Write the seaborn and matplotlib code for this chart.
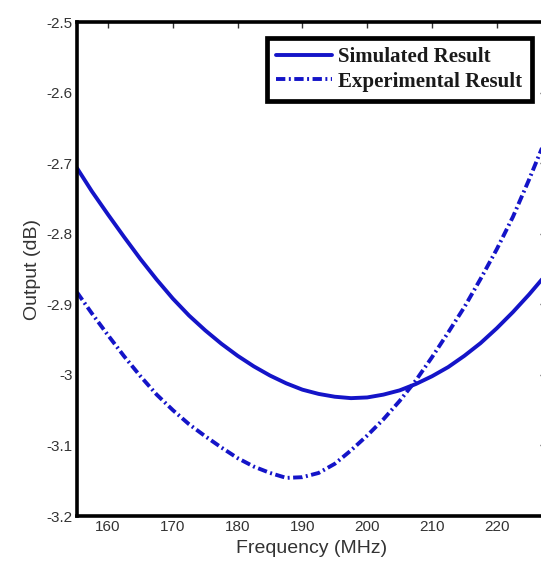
import matplotlib
matplotlib.use("Agg")
import matplotlib.pyplot as plt
import seaborn as sns
import pandas as pd

# Frequency sweep (MHz) and measured/simulated output (dB)
freq_mhz = [155.2, 157.5, 160, 162.5, 165, 167.5, 170, 172.5, 175, 177.5,
            180, 182.5, 185, 187.5, 190, 192.5, 195, 197.5, 200, 202.5,
            205, 207.5, 210, 212.5, 215, 217.5, 220, 222.5, 225, 227.5]
simulated_db = [-2.707, -2.740, -2.773, -2.805, -2.836, -2.865, -2.892, -2.916,
                -2.937, -2.956, -2.973, -2.988, -3.001, -3.012, -3.021, -3.027,
                -3.031, -3.033, -3.032, -3.028, -3.022, -3.013, -3.002, -2.989,
                -2.973, -2.955, -2.934, -2.911, -2.886, -2.859]
experimental_db = [-2.883, -2.913, -2.944, -2.974, -3.002, -3.028, -3.050, -3.070,
                   -3.087, -3.103, -3.118, -3.130, -3.139, -3.146, -3.145, -3.139,
                   -3.126, -3.107, -3.086, -3.063, -3.037, -3.008, -2.975, -2.940,
                   -2.904, -2.864, -2.822, -2.776, -2.723, -2.667]

series_names = ["Simulated Result", "Experimental Result"]
x_ticks = [160, 170, 180, 190, 200, 210, 220]
y_ticks = [-2.5, -2.6, -2.7, -2.8, -2.9, -3.0, -3.1, -3.2]
y_tick_labels = ["-2.5", "-2.6", "-2.7", "-2.8", "-2.9", "-3", "-3.1", "-3.2"]

sim_df = pd.DataFrame({"freq": freq_mhz, "out": simulated_db})
exp_df = pd.DataFrame({"freq": freq_mhz, "out": experimental_db})

sns.set_style("white")
plt.rcParams["font.family"] = ["Liberation Sans", "DejaVu Sans"]

W, H = 541, 570
fig = plt.figure(figsize=(W / 100, H / 100), dpi=100)
# axes box in pixel terms; right spine sits just past the canvas edge
left_px, right_px, top_px, bottom_px = 77, 546, 22, 516
ax = fig.add_axes([left_px / W, 1 - bottom_px / H,
                   (right_px - left_px) / W, (bottom_px - top_px) / H])

blue = "#1414C8"
sns.lineplot(data=sim_df, x="freq", y="out", ax=ax, color=blue, linewidth=2.8,
             label=series_names[0], solid_capstyle="round",
             solid_joinstyle="round")
sns.lineplot(data=exp_df, x="freq", y="out", ax=ax, color=blue, linewidth=2.8,
             label=series_names[1], linestyle=(0, (2.4, 0.9, 0.5, 0.9)),
             dash_capstyle="butt")

ax.set_xlim(155.2, 227.6)
ax.set_ylim(-3.2, -2.5)
ax.set_xticks(x_ticks)
ax.set_xticklabels([str(t) for t in x_ticks])
ax.set_yticks(y_ticks)
ax.set_yticklabels(y_tick_labels)

for side in ["left", "right", "top", "bottom"]:
    ax.spines[side].set_visible(True)
    ax.spines[side].set_color("black")
    ax.spines[side].set_linewidth(2.6)

ax.tick_params(axis="both", which="major", direction="in", length=4, width=1,
               top=True, right=True, labelsize=11, labelcolor="#333333",
               color="#333333", pad=3)

ax.set_xlabel("Frequency (MHz)", fontsize=14, color="#333333", labelpad=4)
ax.set_ylabel("Output (dB)", fontsize=14, color="#333333", labelpad=4)

leg = ax.legend(loc="upper right", bbox_to_anchor=(532 / W, 1 - 38 / H),
                bbox_transform=fig.transFigure, borderaxespad=0,
                frameon=True, fancybox=False, framealpha=1, handlelength=2.7,
                handletextpad=0.3, borderpad=0.45, labelspacing=0.2,
                prop={"family": ["Liberation Serif"], "weight": "bold", "size": 15})
leg.get_frame().set_edgecolor("black")
leg.get_frame().set_linewidth(3.4)
for t in leg.get_texts():
    t.set_color("#1a1a1a")

fig.savefig("out.png", dpi=100)
